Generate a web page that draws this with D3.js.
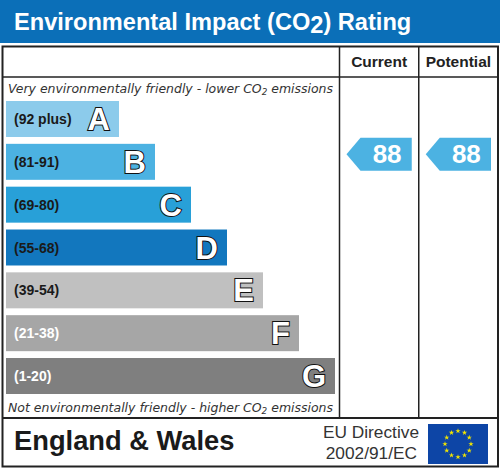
<!DOCTYPE html>
<html><head><meta charset="utf-8">
<script src="https://cdn.jsdelivr.net/npm/d3@7/dist/d3.min.js"></script>
<style>html,body{margin:0;padding:0;background:#fff;}svg{display:block;font-family:"Liberation Sans",Arial,sans-serif;}</style>
</head><body>
<script>
const bands = ["A","B","C","D","E","F","G"];
const ranges = ["(92 plus)","(81-91)","(69-80)","(55-68)","(39-54)","(21-38)","(1-20)"];
const lowerBounds = [92,81,69,55,39,21,1];
const bandColors = ["#8ccbeb","#4cb2e2","#28a0d8","#1277be","#c0c0c0","#a6a6a6","#7f7f7f"];
const rangeTextColors = ["#1a1a1a","#1a1a1a","#1a1a1a","#1a1a1a","#1a1a1a","#ffffff","#ffffff"];
const columns = ["Current","Potential"];
const ratings = [88, 88];

const W = 500, H = 469;
const svg = d3.select("body").append("svg").attr("width", W).attr("height", H);

// Title bar
svg.append("rect").attr("x",0).attr("y",0).attr("width",W).attr("height",43).attr("fill","#0b6fb8");
const title = svg.append("text").attr("x",14).attr("y",30).attr("fill","#fff")
  .attr("font-size",23.6).attr("font-weight","bold");
title.append("tspan").text("Environmental Impact (CO");
title.append("tspan").attr("dy",3).text("2");
title.append("tspan").attr("dy",-3).text(") Rating");

// Layout scales
const y = d3.scaleBand().domain(bands).range([101, 394]).paddingInner(0.16).paddingOuter(0);
const barEnd = d3.scaleLinear().domain([0, bands.length-1]).range([119, 335]);
const colX = d3.scaleBand().domain(columns).range([339.5, 498]);

// Table lines
const g = svg.append("g").attr("stroke","#222").attr("fill","none");
g.append("rect").attr("x",2.5).attr("y",46.5).attr("width",495.5).attr("height",420).attr("stroke-width",2);
g.append("line").attr("x1",2.5).attr("x2",498).attr("y1",77).attr("y2",77).attr("stroke-width",1.5);
g.append("line").attr("x1",2.5).attr("x2",498).attr("y1",418).attr("y2",418).attr("stroke-width",2);
columns.forEach(c => {
  g.append("line").attr("x1",colX(c)).attr("x2",colX(c)).attr("y1",46.5).attr("y2",418).attr("stroke-width",1.5);
});

// Column headers
svg.selectAll(".hdr").data(columns).join("text").attr("class","hdr")
  .attr("x", d => colX(d) + colX.bandwidth()/2).attr("y", 67)
  .attr("text-anchor","middle").attr("font-size",15.5).attr("font-weight","bold").attr("fill","#222")
  .text(d => d);

// Top / bottom captions
function caption(yy, a, b) {
  const t = svg.append("text").attr("x",8).attr("y",yy).attr("font-size",12)
    .attr("font-family","'DejaVu Sans',sans-serif")
    .attr("font-style","italic").attr("fill","#333")
    .attr("textLength",325).attr("lengthAdjust","spacingAndGlyphs");
  t.append("tspan").text(a);
  t.append("tspan").attr("font-size",8.5).attr("dy",2).text("2");
  t.append("tspan").attr("dy",-2).text(b);
}
caption(93, "Very environmentally friendly - lower CO", " emissions");
caption(412, "Not environmentally friendly - higher CO", " emissions");

// Bars
const rows = svg.selectAll(".row").data(bands).join("g").attr("class","row");
rows.append("rect").attr("x",6).attr("y", d => y(d))
  .attr("width", (d,i) => barEnd(i) - 6).attr("height", y.bandwidth())
  .attr("fill", (d,i) => bandColors[i]);
rows.append("text").attr("x",14).attr("y", d => y(d) + y.bandwidth()/2 + 5)
  .attr("font-size",14).attr("font-weight","bold")
  .attr("fill", (d,i) => rangeTextColors[i]).text((d,i) => ranges[i]);
rows.append("text").attr("x",(d,i) => barEnd(i) - 9).attr("y", d => y(d) + y.bandwidth()/2 + 11)
  .attr("text-anchor","end").attr("font-size",31).attr("font-weight","bold")
  .attr("fill","#fff").attr("stroke","#111").attr("stroke-width",2).attr("paint-order","stroke")
  .text(d => d);

// Rating arrows
function bandOf(v){ return bands[lowerBounds.findIndex(lb => v >= lb)]; }
const arrowH = 33, tip = 14;
columns.forEach((c,i) => {
  const v = ratings[i];
  const b = bandOf(v);
  const top = y(b) - 6;
  const x0 = colX(c) + 7, x1 = colX(c) + colX.bandwidth() - 7;
  const idx = bands.indexOf(b);
  svg.append("path")
    .attr("d", `M${x0},${top+arrowH/2} L${x0+tip},${top} L${x1},${top} L${x1},${top+arrowH} L${x0+tip},${top+arrowH} Z`)
    .attr("fill", bandColors[idx]);
  svg.append("text").attr("x",(x0+tip+x1)/2 + 1).attr("y", top + arrowH/2 + 9)
    .attr("text-anchor","middle").attr("font-size",26).attr("font-weight","bold").attr("fill","#fff")
    .text(v);
});

// Footer
svg.append("text").attr("x",14).attr("y",450).attr("font-size",27.3).attr("font-weight","bold")
  .attr("fill","#1a1a1a").text("England & Wales");
svg.append("text").attr("x",419).attr("y",438).attr("text-anchor","end").attr("font-size",17.3)
  .attr("fill","#333").text("EU Directive");
svg.append("text").attr("x",417).attr("y",459).attr("text-anchor","end").attr("font-size",17.3)
  .attr("fill","#333").text("2002/91/EC");

// EU flag
const fx = 428, fy = 424, fw = 60, fh = 40;
svg.append("rect").attr("x",fx).attr("y",fy).attr("width",fw).attr("height",fh).attr("fill","#0d45a6");
const star = d3.symbol().type(d3.symbolStar).size(9);
svg.selectAll(".star").data(d3.range(12)).join("path").attr("class","star")
  .attr("d", star)
  .attr("transform", d => {
    const a = d / 12 * 2 * Math.PI;
    return `translate(${fx+fw/2 + 13*Math.sin(a)},${fy+fh/2 - 13*Math.cos(a)})`;
  })
  .attr("fill","#f2e500");
</script>
</body></html>
